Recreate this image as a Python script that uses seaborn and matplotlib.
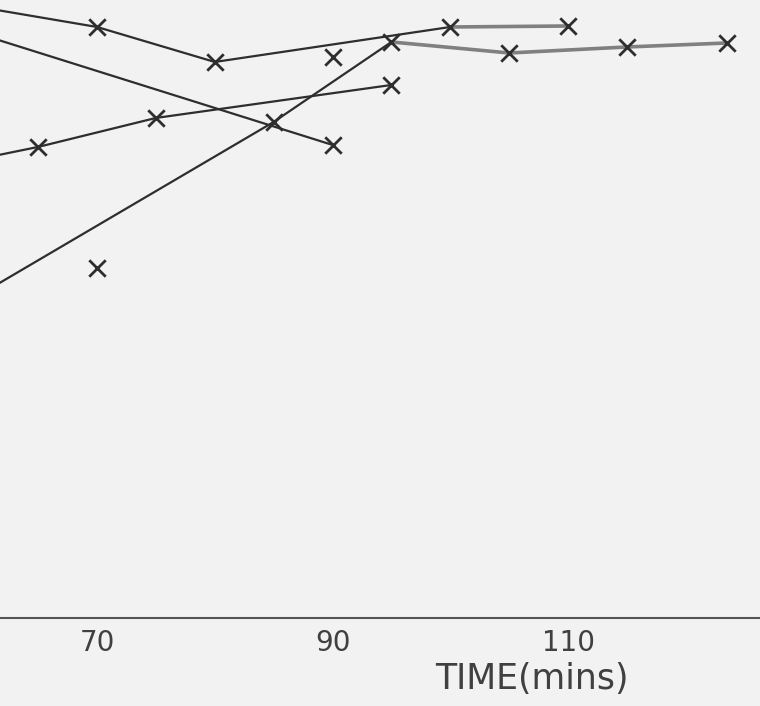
import pandas as pd
import matplotlib
matplotlib.use("Agg")
import matplotlib.pyplot as plt
import seaborn as sns

# ── Data (y has no printed scale) ────────────────────────────────────────────
a_time = [60, 70, 80, 100, 110]
a_val = [61.1, 59.1, 55.6, 59.1, 59.2]

b_time = [60, 90]
b_val = [58.4, 47.3]

c_time = [60, 65, 75, 95]
c_val = [45.9, 47.1, 50.0, 53.3]

d_time = [60, 85, 95, 105, 115, 123.5]
d_val = [32.3, 49.6, 57.6, 56.5, 57.1, 57.5]

stray_time = [70, 90]
stray_val = [35.0, 56.1]

tick_pos = [70, 80, 90, 100, 110, 120]
tick_lab = ["70", "", "90", "", "110", ""]

# ── Style ────────────────────────────────────────────────────────────────────
sns.set_theme(style="white")
plt.rcParams["font.family"] = ["DejaVu Sans"]

INK = "#2e2e2e"
GREY = "#808080"
TXT = "#404040"
BG = "#f2f2f2"

fig = plt.figure(figsize=(7.6, 7.06), dpi=100, facecolor=BG)
ax = fig.add_axes([0, 0.125, 1, 0.875], facecolor=BG)


def draw(times, vals, color, lw=1.6):
    df = pd.DataFrame({"t": times, "v": vals})
    sns.lineplot(data=df, x="t", y="v", ax=ax, color=color, lw=lw,
                 sort=False, estimator=None)


def marks(times, vals):
    df = pd.DataFrame({"t": times, "v": vals})
    sns.scatterplot(data=df, x="t", y="v", ax=ax, marker="x", s=140,
                    color=INK, linewidth=2.0, zorder=5)


# line A: dark up to 100, re-inked grey after
draw(a_time[:4], a_val[:4], INK)
draw(a_time[3:], a_val[3:], GREY, lw=2.6)
marks(a_time[1:], a_val[1:])

# line B
draw(b_time, b_val, INK)
marks(b_time[1:], b_val[1:])

# line C
draw(c_time, c_val, INK)
marks(c_time[1:], c_val[1:])

# line D: dark up to 95, grey after
draw(d_time[:3], d_val[:3], INK)
draw(d_time[2:], d_val[2:], GREY, lw=2.6)
marks(d_time[1:], d_val[1:])

# loose points
marks(stray_time, stray_val)

# ── Axes ─────────────────────────────────────────────────────────────────────
ax.set_xlim(61.76, 126.3)
ax.set_ylim(0, 61.8)
for side in ["top", "left", "right"]:
    ax.spines[side].set_visible(False)
ax.spines["bottom"].set_color("#555555")
ax.spines["bottom"].set_linewidth(1.5)
ax.set_yticks([])
ax.set_xticks(tick_pos)
ax.set_xticklabels(tick_lab, fontsize=20, color=TXT)
ax.tick_params(axis="x", direction="inout", length=12, width=1.5,
               color="#555555", pad=2)
ax.set_xlabel("")
ax.set_ylabel("")

fig.text(0.70, 0.038, "TIME(mins)", ha="center", va="center",
         fontsize=25, color=TXT)

fig.savefig("out.png", dpi=100, facecolor=BG)
